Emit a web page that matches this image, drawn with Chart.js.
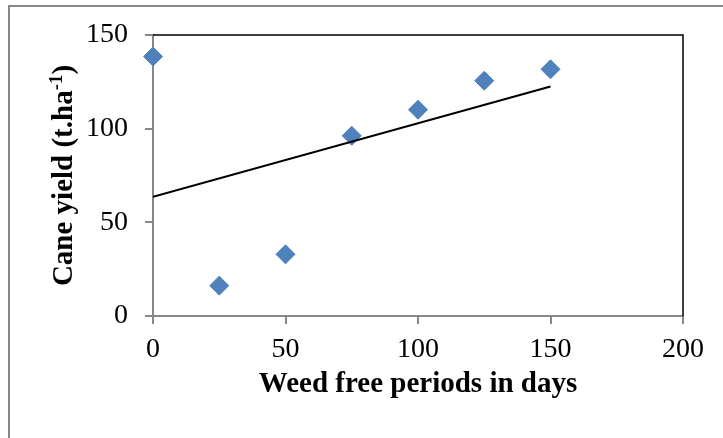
<!DOCTYPE html>
<html>
<head>
<meta charset="utf-8">
<script src="https://cdn.jsdelivr.net/npm/chart.js@4/dist/chart.umd.min.js"></script>
<style>
    html, body { margin: 0; padding: 0; background: #fff; }
    #wrap { width: 723px; height: 438px; }
</style>
</head>
<body>
<div id="wrap"><canvas id="chart"></canvas></div>
<script>
// values
const weedFreeDays = [0, 25, 50, 75, 100, 125, 150];
const caneYield = [138.5, 16.2, 32.9, 96.2, 110.1, 125.6, 131.7];
const trendDays = [0, 150];
const trendYield = [63.6, 122.5];
const xTicks = [0, 50, 100, 150, 200];
const yTicks = [0, 50, 100, 150];

const serif = '"Liberation Serif", "Times New Roman", serif';
const axisGray = '#878787';

const toPoints = (xs, ys) => xs.map((x, i) => ({ x: x, y: ys[i] }));

// frame of the picture, black top/right edges of the plot, rotated y title
const decorations = {
    id: 'decorations',
    beforeDraw(chart) {
        const ctx = chart.ctx;
        ctx.save();
        ctx.fillStyle = '#fff';
        ctx.fillRect(0, 0, chart.width, chart.height);
        ctx.strokeStyle = axisGray;
        ctx.lineWidth = 2;
        ctx.beginPath();
        ctx.moveTo(9, chart.height);
        ctx.lineTo(9, 6);
        ctx.lineTo(chart.width, 6);
        ctx.stroke();
        ctx.restore();
    },
    afterDraw(chart) {
        const ctx = chart.ctx;
        const a = chart.chartArea;
        ctx.save();
        ctx.strokeStyle = '#000';
        ctx.lineWidth = 1.5;
        ctx.beginPath();
        ctx.moveTo(a.left, a.top);
        ctx.lineTo(a.right, a.top);
        ctx.lineTo(a.right, a.bottom);
        ctx.stroke();

        const main = 'Cane yield (t.ha';
        const sup = '-1';
        const end = ')';
        const big = 'bold 29px ' + serif;
        const small = 'bold 19px ' + serif;
        ctx.font = big;
        const w1 = ctx.measureText(main).width;
        const w3 = ctx.measureText(end).width;
        ctx.font = small;
        const w2 = ctx.measureText(sup).width;
        const total = w1 + w2 + w3;

        ctx.translate(72, (a.top + a.bottom) / 2);
        ctx.rotate(-Math.PI / 2);
        ctx.fillStyle = '#000';
        ctx.textBaseline = 'alphabetic';
        ctx.textAlign = 'left';
        let x = -total / 2;
        ctx.font = big;
        ctx.fillText(main, x, 0);
        x += w1;
        ctx.font = small;
        ctx.fillText(sup, x, -10);
        x += w2;
        ctx.font = big;
        ctx.fillText(end, x, 0);
        ctx.restore();
    }
};

new Chart(document.getElementById('chart'), {
    type: 'scatter',
    data: {
        datasets: [{
            type: 'line',
            data: toPoints(trendDays, trendYield),
            borderColor: '#000',
            borderWidth: 2,
            pointRadius: 0,
            fill: false,
            order: 0
        }, {
            data: toPoints(weedFreeDays, caneYield),
            pointStyle: 'rectRot',
            pointRadius: 9.5,
            backgroundColor: '#4F81BD',
            borderColor: '#4F81BD',
            borderWidth: 1,
            clip: false,
            order: 1
        }]
    },
    options: {
        responsive: true,
        maintainAspectRatio: false,
        animation: false,
        layout: { padding: { top: 35, right: 40, left: 0, bottom: 0 } },
        plugins: {
            legend: { display: false },
            tooltip: { enabled: false }
        },
        scales: {
            x: {
                type: 'linear',
                min: 0,
                max: 200,
                afterBuildTicks: scale => { scale.ticks = xTicks.map(v => ({ value: v })); },
                afterFit: scale => { scale.height = 122; },
                ticks: {
                    color: '#000',
                    padding: 9,
                    font: { family: serif, size: 28 }
                },
                grid: {
                    drawOnChartArea: false,
                    drawTicks: true,
                    tickLength: 8,
                    color: axisGray,
                    lineWidth: 2
                },
                border: { color: axisGray, width: 2 },
                title: {
                    display: true,
                    text: 'Weed free periods in days',
                    color: '#000',
                    padding: { top: 0, bottom: 36 },
                    font: { family: serif, size: 29, weight: 'bold' }
                }
            },
            y: {
                min: 0,
                max: 150,
                afterBuildTicks: scale => { scale.ticks = yTicks.map(v => ({ value: v })); },
                afterFit: scale => { scale.width = 153; },
                ticks: {
                    color: '#000',
                    padding: 17,
                    font: { family: serif, size: 28 }
                },
                grid: {
                    drawOnChartArea: false,
                    drawTicks: true,
                    tickLength: 8,
                    color: axisGray,
                    lineWidth: 2
                },
                border: { color: axisGray, width: 2 }
            }
        }
    },
    plugins: [decorations]
});
</script>
</body>
</html>
